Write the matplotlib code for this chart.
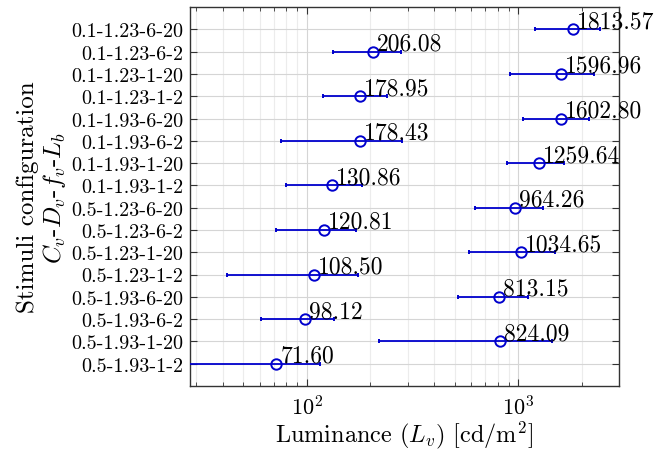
import numpy as np
import matplotlib
matplotlib.use("Agg")
import matplotlib.pyplot as plt
from matplotlib.ticker import LogLocator, NullFormatter

plt.rcParams["font.family"] = "serif"
plt.rcParams["font.serif"] = ["cmr10"]
plt.rcParams["mathtext.fontset"] = "cm"
plt.rcParams["axes.formatter.use_mathtext"] = True

# rows top to bottom
configs = ["0.1-1.23-6-20", "0.1-1.23-6-2", "0.1-1.23-1-20", "0.1-1.23-1-2",
           "0.1-1.93-6-20", "0.1-1.93-6-2", "0.1-1.93-1-20", "0.1-1.93-1-2",
           "0.5-1.23-6-20", "0.5-1.23-6-2", "0.5-1.23-1-20", "0.5-1.23-1-2",
           "0.5-1.93-6-20", "0.5-1.93-6-2", "0.5-1.93-1-20", "0.5-1.93-1-2"]
lum_mean = [1813.57, 206.08, 1596.96, 178.95, 1602.80, 178.43, 1259.64, 130.86,
            964.26, 120.81, 1034.65, 108.50, 813.15, 98.12, 824.09, 71.60]
lum_low = [1199, 132.7, 914, 119, 1056, 75.4, 881, 79.3,
           622, 71.1, 583, 41.7, 519, 60.6, 219.6, 27.8]
lum_high = [2432, 279, 2281, 239, 2165, 281, 1644, 182,
            1313, 170, 1491, 175, 1108, 135, 1439, 115.2]

lum_mean = np.array(lum_mean)
err = np.vstack([lum_mean - np.array(lum_low), np.array(lum_high) - lum_mean])
ypos = np.arange(1, len(configs) + 1)

fig = plt.figure(figsize=(6.67, 4.52), dpi=100)
ax = fig.add_axes([0.285, 0.144, 0.643, 0.838])

ax.errorbar(lum_mean, ypos, xerr=err, fmt="o", color="#0000cd", mfc="none",
            mec="#0000cd", ms=7.5, mew=1.4, elinewidth=1.3, capsize=1.6,
            capthick=1.3, zorder=3)

for v, y in zip(lum_mean, ypos):
    ax.annotate(f"{v:.2f}", (v, y), xytext=(4, 2), textcoords="offset pixels",
                ha="left", va="baseline", fontsize=17, zorder=4,
                annotation_clip=False)

ax.set_xscale("log")
ax.set_xlim(28, 3000)
ax.set_ylim(17, 0)
ax.set_yticks(ypos)
ax.set_yticklabels(configs, fontsize=14.5)
ax.xaxis.set_major_locator(LogLocator(base=10))
ax.xaxis.set_minor_locator(LogLocator(base=10, subs=np.arange(2, 10)))
ax.xaxis.set_minor_formatter(NullFormatter())
ax.tick_params(axis="x", which="major", labelsize=16, pad=6)

ax.tick_params(which="both", direction="in", top=True, right=True,
               color="#333333")
ax.tick_params(which="major", length=5)
ax.tick_params(which="minor", length=3)
ax.tick_params(axis="y", pad=5)

ax.grid(True, which="major", color="#d5d5d5", lw=0.8)
ax.grid(True, which="minor", axis="x", color="#ececec", lw=0.8)
ax.set_axisbelow(True)
for s in ax.spines.values():
    s.set_color("#333333")
    s.set_linewidth(1.0)

ax.set_xlabel(r"Luminance ($L_v$) [cd/m$^2$]", fontsize=17.5, labelpad=0)
ax.set_ylabel("Stimuli configuration\n" + r"$C_v$-$D_v$-$f_v$-$L_b$",
              fontsize=18, labelpad=2, linespacing=1.1)

fig.savefig("out.png", dpi=100)
